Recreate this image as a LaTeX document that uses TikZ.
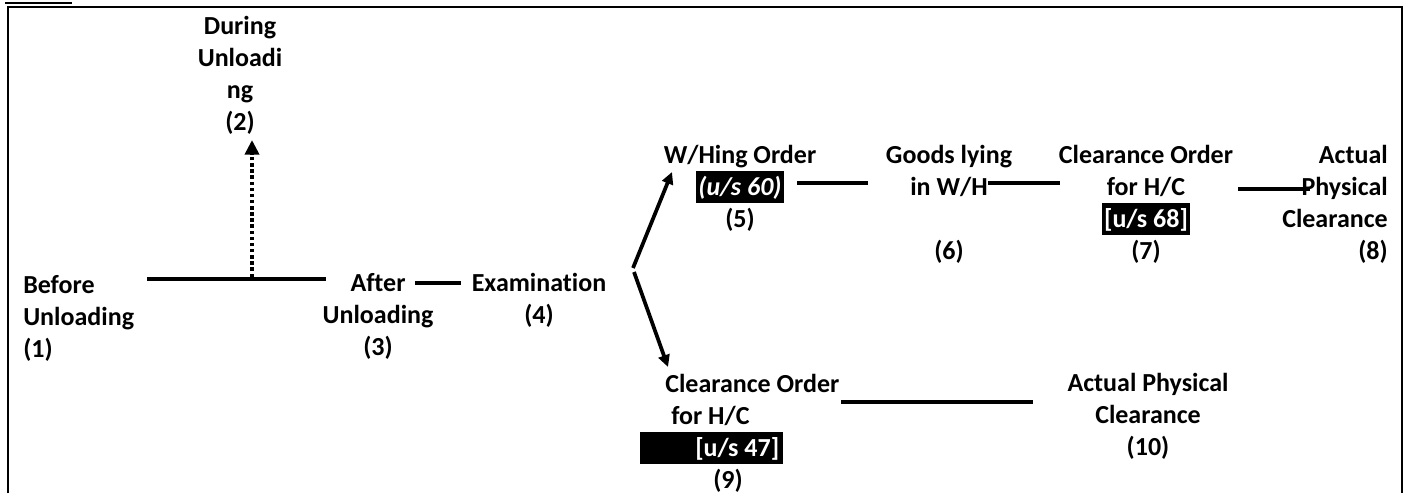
\documentclass[tikz,border=0pt]{standalone}
\usepackage{fontspec}
\setmainfont{Carlito}[Ligatures={NoCommon,NoContextual},RawFeature={-liga;-clig}]
\usetikzlibrary{arrows.meta}
\newlength{\pxu}
\setlength{\pxu}{0.75pt}
% black highlight behind a section reference: #1 left pad, #2 right pad, #3 text
\newcommand{\hlbox}[3]{{\setlength{\fboxsep}{0pt}\colorbox{black}{\hspace*{#1}\rule[-6pt]{0pt}{24pt}\color{white}#3\hspace*{#2}}}}
\begin{document}
\begin{tikzpicture}[x=0.75pt,y=-0.75pt,
  lbl/.style={inner sep=0pt, font=\fontsize{19.5}{24}\selectfont\bfseries},
  conn/.style={line width=3pt},
  flow/.style={line width=2.8pt, -{Triangle[length=9pt,width=8.5pt]}},
  dotflow/.style={line width=3.4pt, dash pattern=on 2.6pt off 2pt, -{Triangle[length=11pt,width=10.5pt]}},
  frame/.style={line width=1.5pt}]
\useasboundingbox (0,0) rectangle (1408,493);

% outer frame, open at the bottom
\draw[frame] (8,493) -- (8,7) -- (1402,7) -- (1402,493);
\draw[line width=1.2pt] (5,3) -- (72,3);

% stages (anchored on the baseline of the last line)
\node[lbl, anchor=base west, align=left] (n1) at (23,357) {Before\\Unloading\\(1)};
\node[lbl, anchor=base, align=center] (n2) at (240,130) {During\\Unloadi\\ng\\(2)};
\node[lbl, anchor=base, align=center] (n3) at (378,355) {After\\Unloading\\(3)};
\node[lbl, anchor=base, align=center] (n4) at (539,323) {Examination\\(4)};
\node[lbl, anchor=base, align=center] (n5) at (740,227) {W/Hing Order\\\hlbox{2\pxu}{2\pxu}{\textit{(u/s 60)}}\\(5)};
\node[lbl, anchor=base, align=center] (n6) at (949,259) {Goods lying\\in W/H\\\mbox{}\\(6)};
\node[lbl, anchor=base, align=center] (n7) at (1146,259) {Clearance Order\\for H/C\\\hlbox{2\pxu}{2\pxu}{[u/s 68]}\\(7)};
\node[lbl, anchor=base east, align=right] (n8) at (1388,259) {Actual\\Physical\\Clearance\\(8)};
\node[lbl, anchor=base west, align=left] (n9) at (640,488) {\hspace*{25\pxu}Clearance Order\\\hspace*{31\pxu}for H/C\\\hlbox{55\pxu}{4\pxu}{[u/s 47]}\\\hspace*{73\pxu}(9)};
\node[lbl, anchor=base, align=center] (n10) at (1148,455) {Actual Physical\\Clearance\\(10)};

% connector end points
\coordinate (a13) at (147,279);
\coordinate (b13) at (326,279);
\coordinate (a2) at (252,277);
\coordinate (b2) at (252,140);
\coordinate (a34) at (415,283);
\coordinate (b34) at (461,283);
\coordinate (a5) at (633,268);
\coordinate (b5) at (672,172);
\coordinate (a9) at (634,272);
\coordinate (b9) at (668,367);
\coordinate (a56) at (797,183);
\coordinate (b56) at (868,183);
\coordinate (a67) at (988,183);
\coordinate (b67) at (1060,183);
\coordinate (a78) at (1238,189);
\coordinate (b78) at (1310,189);
\coordinate (a910) at (841,402);
\coordinate (b910) at (1033,402);

% connectors
\draw[conn] (a13) -- (b13);
\draw[dotflow] (a2) -- (b2);
\draw[conn] (a34) -- (b34);
\draw[flow] (a5) -- (b5);
\draw[flow] (a9) -- (b9);
\draw[conn] (a56) -- (b56);
\draw[conn] (a67) -- (b67);
\draw[conn] (a78) -- (b78);
\draw[conn] (a910) -- (b910);
\end{tikzpicture}
\end{document}
